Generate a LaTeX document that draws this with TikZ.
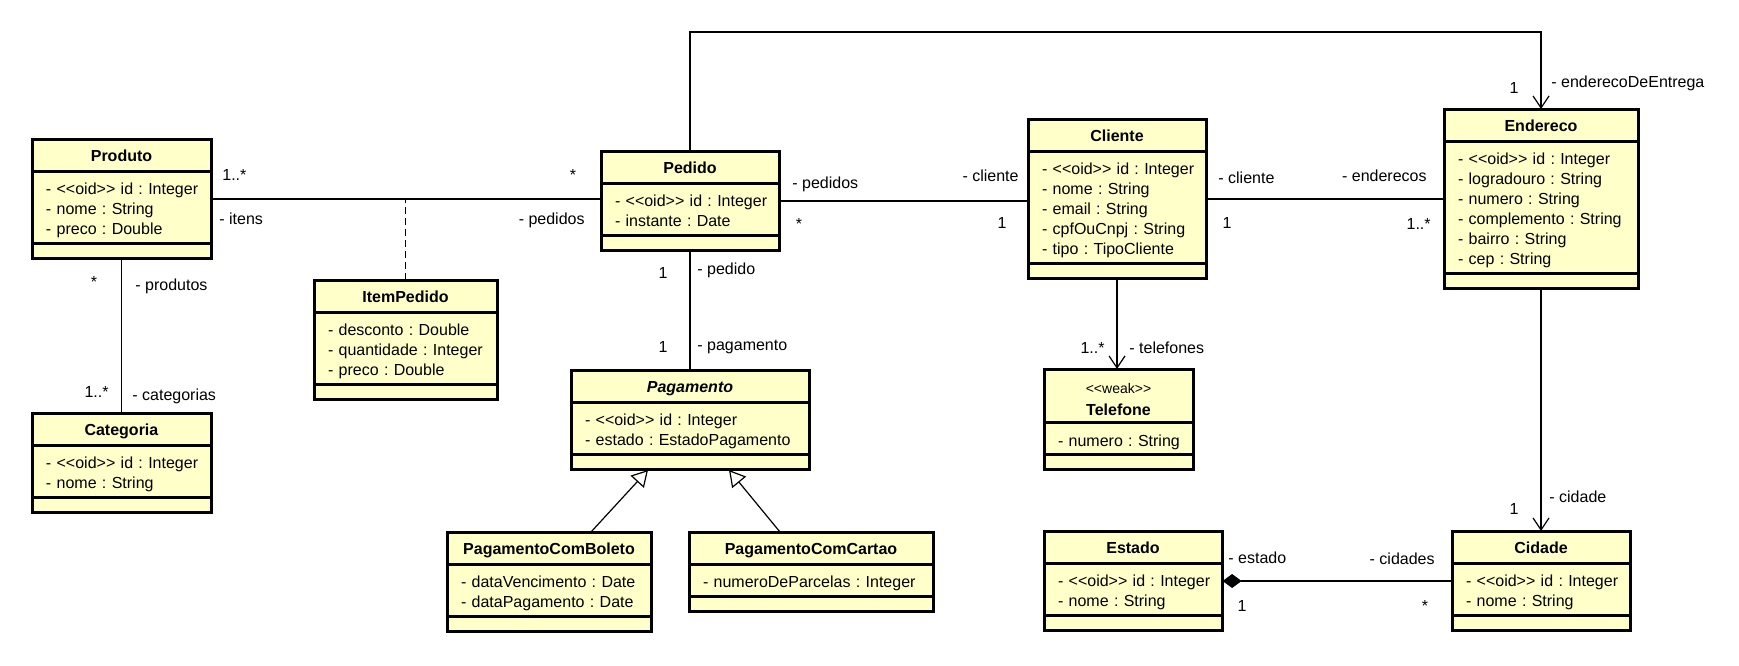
\documentclass[tikz,border=0pt]{standalone}
\usepackage{fontspec}
\setmainfont{Liberation Sans}
\usetikzlibrary{shapes.multipart,arrows.meta}

\definecolor{classfill}{HTML}{FFFFCA}
\frenchspacing

\tikzset{
  umlclass/.style={rectangle split, rectangle split parts=3, draw, line width=0.6pt,
    fill=classfill, inner sep=0pt, anchor=north, align=left,
    postaction={draw, line width=1.5pt}},
  lbl/.style={inner sep=0pt, text height=6.5pt, text depth=1pt},
  assoc/.style={line width=0.6pt},
}
\newcommand{\oidtag}{<\kern0pt<oid>\kern0pt>}
\newcommand{\ctitle}[1]{\noindent\rule[-4.85pt]{0pt}{15.3pt}\hfill#1\hfill\null}
\newcommand{\cattrs}[1]{\leftskip=7pt\noindent\rule{0pt}{11.3pt}#1\rule[-4pt]{0pt}{4pt}\par}
\newcommand{\cops}{\noindent\rule{0pt}{7pt}}

\begin{document}
\begin{tikzpicture}[x=0.5pt, y=-0.5pt, font=\fontsize{8}{10}\selectfont,
  >={Straight Barb[length=6pt,width=8pt]}]
    \useasboundingbox (0,0) rectangle (1739,665);

    % classes
    \node[umlclass, text width=89.5pt] (produto) at (121.5,139)
      {\ctitle{\textbf{Produto}}\nodepart{two}\cattrs{- \oidtag\ id : Integer\\- nome : String\\- preco : Double}\nodepart{three}\cops};
    \node[umlclass, text width=89.5pt] (categoria) at (121.5,413)
      {\ctitle{\textbf{Categoria}}\nodepart{two}\cattrs{- \oidtag\ id : Integer\\- nome : String}\nodepart{three}\cops};
    \node[umlclass, text width=91.5pt] (itempedido) at (405.5,280)
      {\ctitle{\textbf{ItemPedido}}\nodepart{two}\cattrs{- desconto : Double\\- quantidade : Integer\\- preco : Double}\nodepart{three}\cops};
    \node[umlclass, text width=89pt] (pedido) at (690,151)
      {\ctitle{\textbf{Pedido}}\nodepart{two}\cattrs{- \oidtag\ id : Integer\\- instante : Date}\nodepart{three}\cops};
    \node[umlclass, text width=119pt] (pagamento) at (690,370)
      {\ctitle{\textbf{\textit{Pagamento}}}\nodepart{two}\cattrs{- \oidtag\ id : Integer\\- estado : EstadoPagamento}\nodepart{three}\cops};
    \node[umlclass, text width=102pt] (boleto) at (549,532)
      {\ctitle{\textbf{PagamentoComBoleto}}\nodepart{two}\cattrs{- dataVencimento : Date\\- dataPagamento : Date}\nodepart{three}\cops};
    \node[umlclass, text width=122pt] (cartao) at (811,532)
      {\ctitle{\textbf{PagamentoComCartao}}\nodepart{two}\cattrs{- numeroDeParcelas : Integer}\nodepart{three}\cops};
    \node[umlclass, text width=89pt] (cliente) at (1117,119)
      {\ctitle{\textbf{Cliente}}\nodepart{two}\cattrs{- \oidtag\ id : Integer\\- nome : String\\- email : String\\- cpfOuCnpj : String\\- tipo : TipoCliente}\nodepart{three}\cops};
    \node[umlclass, text width=97pt] (endereco) at (1541,109)
      {\ctitle{\textbf{Endereco}}\nodepart{two}\cattrs{- \oidtag\ id : Integer\\- logradouro : String\\- numero : String\\- complemento : String\\- bairro : String\\- cep : String}\nodepart{three}\cops};
    \node[umlclass, text width=74.5pt] (telefone) at (1118.5,369)
      {\noindent\rule{0pt}{11.5pt}\hfill{\fontsize{7}{8}\selectfont <\kern0pt<weak>\kern0pt>}\hfill\null\\[0.9pt]
       \rule[-3.6pt]{0pt}{3.6pt}\hfill\textbf{Telefone}\hfill\null
       \nodepart{two}\cattrs{- numero : String}\nodepart{three}\cops};
    \node[umlclass, text width=89pt] (estado) at (1133,531)
      {\ctitle{\textbf{Estado}}\nodepart{two}\cattrs{- \oidtag\ id : Integer\\- nome : String}\nodepart{three}\cops};
    \node[umlclass, text width=89pt] (cidade) at (1541,531)
      {\ctitle{\textbf{Cidade}}\nodepart{two}\cattrs{- \oidtag\ id : Integer\\- nome : String}\nodepart{three}\cops};

    % associations
    \draw[assoc] (produto.east) -- (produto.east -| pedido.west);
    \draw[assoc, dash pattern=on 3.5pt off 2pt] (itempedido.north) -- (itempedido.north |- produto.east);
    \draw[assoc] (produto.south) -- (categoria.north);
    \draw[assoc] (pedido.east) -- (pedido.east -| cliente.west);
    \draw[assoc] (pedido.south) -- (pagamento.north);
    \draw[assoc, ->] (pedido.north) -- ++(0,-119) -| (endereco.north);
    \draw[assoc] (cliente.east) -- (endereco.west);
    \draw[assoc, ->] (cliente.south) -- (cliente.south |- telefone.north);
    \draw[assoc, ->] (endereco.south) -- (cidade.north);
    \draw[assoc, {Diamond[length=9.5pt,width=7pt]}-] (estado.east) -- (cidade.west);
    \draw[assoc, -{Triangle[open,length=8pt,width=9pt]}] ([xshift=21pt]boleto.north) -- ([xshift=-21pt]pagamento.south);
    \draw[assoc, -{Triangle[open,length=8pt,width=9pt]}] ([xshift=-15.5pt]cartao.north) -- ([xshift=19.5pt]pagamento.south);

    % roles and multiplicities
    \node[lbl, anchor=west] (pp-m1) at (222,175) {1..*};
    \node[lbl, anchor=west] (pp-r1) at (219,219) {- itens};
    \node[lbl] (pp-m2) at (573,175) {*};
    \node[lbl, anchor=east] (pp-r2) at (585,219) {- pedidos};

    \node[lbl] (pc-m1) at (94,282) {*};
    \node[lbl, anchor=west] (pc-r1) at (135,285) {- produtos};
    \node[lbl, anchor=east] (pc-m2) at (109,392) {1..*};
    \node[lbl, anchor=west] (pc-r2) at (132,395) {- categorias};

    \node[lbl, anchor=west] (pcl-r1) at (792,183) {- pedidos};
    \node[lbl] (pcl-m1) at (799,224) {*};
    \node[lbl, anchor=east] (pcl-r2) at (1019,176) {- cliente};
    \node[lbl] (pcl-m2) at (1002,223) {1};

    \node[lbl] (pg-m1) at (663,273) {1};
    \node[lbl, anchor=west] (pg-r1) at (697,269) {- pedido};
    \node[lbl] (pg-m2) at (663,347) {1};
    \node[lbl, anchor=west] (pg-r2) at (697,345) {- pagamento};

    \node[lbl] (ent-m) at (1514,88) {1};
    \node[lbl, anchor=west] (ent-r) at (1551,82) {- enderecoDeEntrega};

    \node[lbl, anchor=west] (ce-r1) at (1218,178) {- cliente};
    \node[lbl] (ce-m1) at (1227,223) {1};
    \node[lbl, anchor=east] (ce-r2) at (1427,176) {- enderecos};
    \node[lbl, anchor=east] (ce-m2) at (1431,224) {1..*};

    \node[lbl, anchor=east] (tel-m) at (1105,348) {1..*};
    \node[lbl, anchor=west] (tel-r) at (1129,348) {- telefones};

    \node[lbl, anchor=west] (cid-r) at (1549,497) {- cidade};
    \node[lbl] (cid-m) at (1514,509) {1};

    \node[lbl, anchor=west] (ec-r1) at (1228,558) {- estado};
    \node[lbl] (ec-m1) at (1242,606) {1};
    \node[lbl, anchor=east] (ec-r2) at (1435,559) {- cidades};
    \node[lbl] (ec-m2) at (1425,606) {*};
\end{tikzpicture}
\end{document}
